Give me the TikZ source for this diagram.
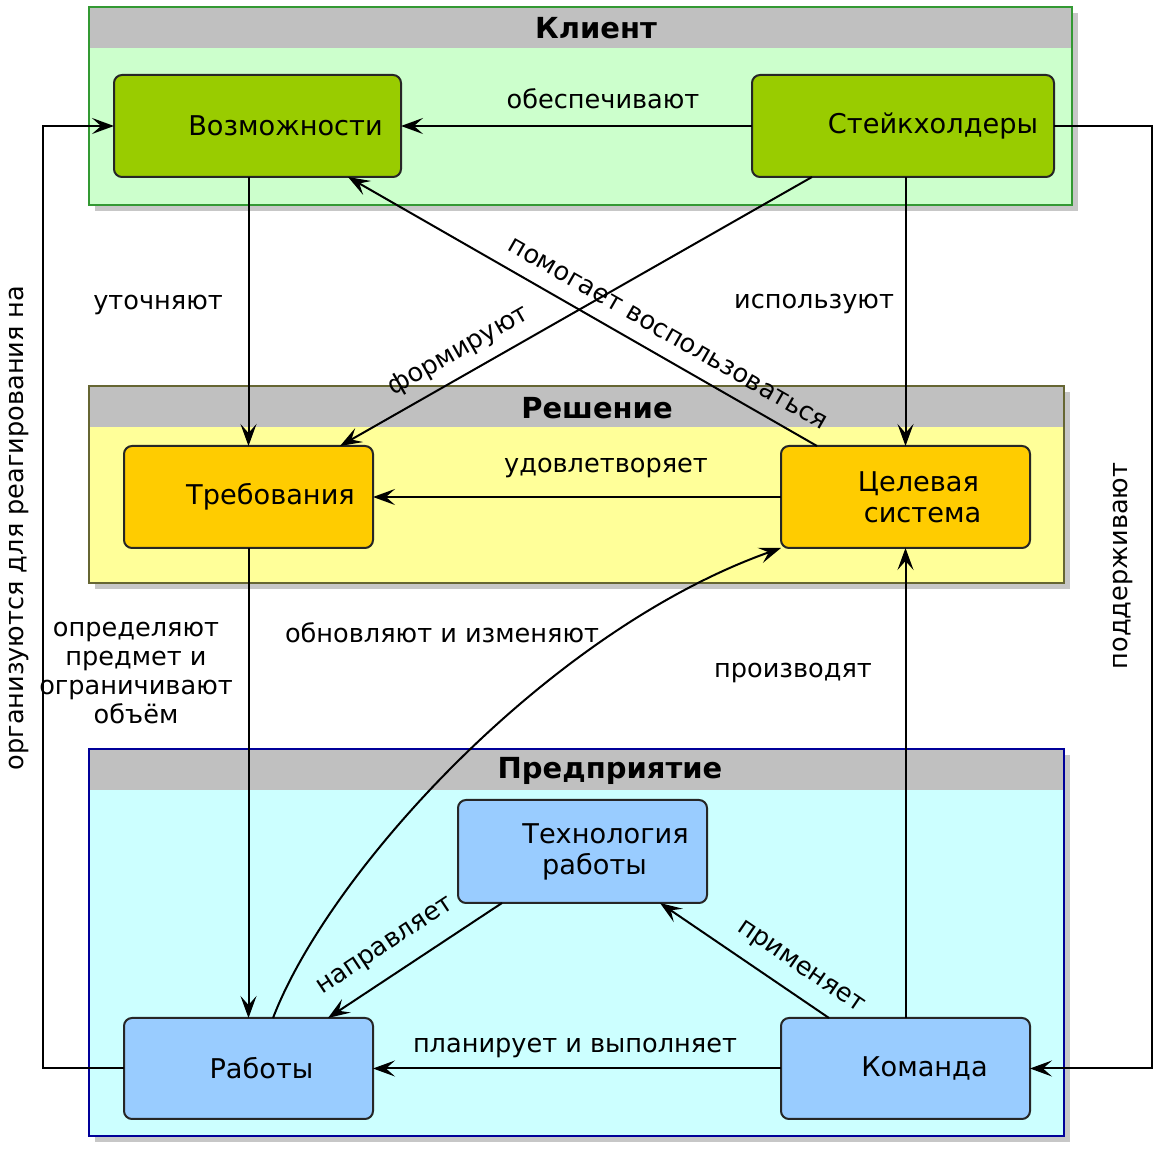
\documentclass[tikz,border=0pt]{standalone}
\usepackage{fontspec}
\setmainfont{DejaVu Sans}
\usetikzlibrary{arrows.meta,calc}

\definecolor{clientbg}{HTML}{CCFFCC}
\definecolor{clientline}{HTML}{339933}
\definecolor{greenbox}{HTML}{99CC00}
\definecolor{solbg}{HTML}{FFFF99}
\definecolor{solline}{HTML}{666633}
\definecolor{yellowbox}{HTML}{FFCC00}
\definecolor{entbg}{HTML}{CCFFFF}
\definecolor{entline}{HTML}{000099}
\definecolor{bluebox}{HTML}{99CCFF}
\definecolor{band}{HTML}{C0C0C0}

\begin{document}
\begin{tikzpicture}
		[x=0.5pt, y=-0.5pt,
		every node/.style={inner sep=0pt, outer sep=0pt},
		box/.style={draw=black!85, line width=1pt, rounded corners=4pt, align=center, font=\fontsize{13.6}{15.5}\selectfont},
		lbl/.style={align=center, font=\fontsize{12.8}{14.5}\selectfont},
		title/.style={font=\bfseries\fontsize{14.5}{16}\selectfont},
		arr/.style={-{Stealth[length=11pt, width=8pt, inset=4.5pt]}, line width=1pt}]
		\useasboundingbox (0,0) rectangle (1164,1149);
		\fill[white] (0,0) rectangle (1164,1149);
		
		% Klient
		\fill[black!22] (95,13) rectangle (1078,211);
		\fill[clientbg] (89,7) rectangle (1072,205);
		\fill[band] (89,7) rectangle (1072,48);
		\draw[clientline, line width=1pt] (89,7) rectangle (1072,205);
		\node[title] (client) at (596,28) {Клиент};
		
		% Reshenie
		\fill[black!22] (95,392) rectangle (1070,589);
		\fill[solbg] (89,386) rectangle (1064,583);
		\fill[band] (89,386) rectangle (1064,427);
		\draw[solline, line width=1pt] (89,386) rectangle (1064,583);
		\node[title] (solution) at (597,408) {Решение};
		
		% Predpriyatie
		\fill[black!22] (95,755) rectangle (1070,1142);
		\fill[entbg] (89,749) rectangle (1064,1136);
		\fill[band] (89,749) rectangle (1064,790);
		\draw[entline, line width=1pt] (89,749) rectangle (1064,1136);
		\node[title] (enterprise) at (610,771) {Предприятие};
		
		\node[box, fill=greenbox, minimum width=143.5pt, minimum height=51pt] (voz) at (257.5,126) {\hspace*{28pt}Возможности};
		\node[box, fill=greenbox, minimum width=151pt, minimum height=51pt] (stake) at (903,126) {\hspace*{30pt}Стейкхолдеры};
		\node[box, fill=yellowbox, minimum width=124.5pt, minimum height=51pt] (treb) at (248.5,497) {\hspace*{22pt}Требования};
		\node[box, fill=yellowbox, minimum width=124.5pt, minimum height=51pt] (target) at (905.5,497) {\hspace*{13pt}Целевая\\\hspace*{17pt}система};
		\node[box, fill=bluebox, minimum width=124.5pt, minimum height=51.5pt] (tech) at (582.5,851.5) {\hspace*{23pt}Технология\\\hspace*{12pt}работы};
		\node[box, fill=bluebox, minimum width=124.5pt, minimum height=50.5pt] (works) at (248.5,1068.5) {\hspace*{13pt}Работы};
		\node[box, fill=bluebox, minimum width=124.5pt, minimum height=50.5pt] (team) at (905.5,1068.5) {\hspace*{19pt}Команда};
		
		\coordinate (leftrail) at (43,0);
		\coordinate (rightrail) at (1152,0);
		
		\draw[arr] (stake.west) -- (voz.east);
		\draw[arr] (voz.south -| treb.north) -- (treb.north);
		\draw[arr] ([shift={(60,0)}]stake.south west) -- ([shift={(-33,0)}]treb.north east);
		\draw[arr] ([shift={(36,0)}]target.north west) -- ([shift={(-53,0)}]voz.south east);
		\draw[arr] (stake.south -| target.north) -- (target.north);
		\draw[arr] (target.west) -- (treb.east);
		\draw[arr] (treb.south) -- (works.north);
		\draw[arr] ([shift={(24.5,0)}]works.north) .. controls (330,870) and (550,630) .. (target.south west);
		\draw[arr] (team.north) -- (target.south);
		\draw[arr] ([shift={(44,0)}]tech.south west) -- ([shift={(-45,0)}]works.north east);
		\draw[arr] ([shift={(48,0)}]team.north west) -- ([shift={(-47,0)}]tech.south east);
		\draw[arr] (team.west) -- (works.east);
		\draw[arr] (works.west) -- (works.west -| leftrail) |- (voz.west);
		\draw[arr] (stake.east) -- (stake.east -| rightrail) |- (team.east);
		
		\node[lbl] (lprov) at (603,99) {обеспечивают};
		\node[lbl] (lrefine) at (158,305) {уточняют};
		\node[lbl] (luse) at (814,304) {используют};
		\node[lbl, rotate=29.7] (lform) at (459,351) {формируют};
		\node[lbl, rotate=-29.8] (lhelp) at (668,334) {помогает воспользоваться};
		\node[lbl] (lsat) at (606,468) {удовлетворяет};
		\node[lbl] (ldef) at (136,673) {определяют\\предмет и\\ограничивают\\объём};
		\node[lbl] (lupd) at (442,633) {обновляют и изменяют};
		\node[lbl] (lprod) at (793,673) {производят};
		\node[lbl, rotate=33.5] (ldirect) at (386,947) {направляет};
		\node[lbl, rotate=-34.2] (lapply) at (800,968) {применяет};
		\node[lbl] (lplan) at (575,1048) {планирует и выполняет};
		\node[lbl, rotate=90] (lorg) at (19,528) {организуются для реагирования на};
		\node[lbl, rotate=90] (lsupp) at (1123,566) {поддерживают};
		\end{tikzpicture}
\end{document}
